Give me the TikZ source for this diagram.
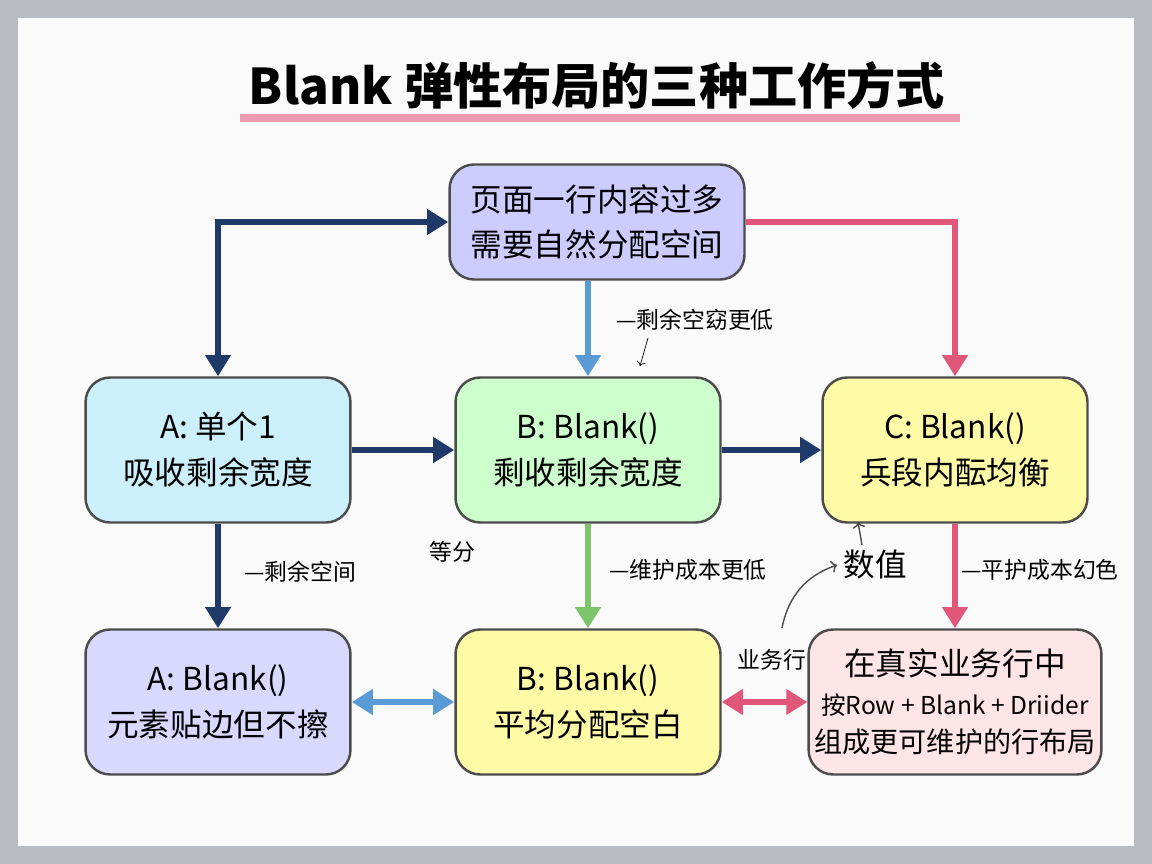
\documentclass[tikz,border=0pt]{standalone}
\usepackage{fontspec}
\setmainfont{Noto Sans CJK SC}
\usetikzlibrary{arrows.meta,positioning}
\definecolor{boardgray}{HTML}{B8BCC0}
\definecolor{inkblue}{HTML}{1F3A68}
\definecolor{arrblue}{HTML}{5B9BD5}
\definecolor{arrgreen}{HTML}{7CC46A}
\definecolor{arrpink}{HTML}{E0577A}
\tikzset{
  box/.style={draw=black!70,line width=1.4pt,rounded corners=14pt,minimum width=5.3cm,minimum height=2.9cm,align=center,font=\fontsize{18}{26}\selectfont},
  flow/.style={line width=3pt,-{Triangle[length=12pt,width=14pt]}},
  both/.style={line width=3pt,{Triangle[length=12pt,width=14pt]}-{Triangle[length=12pt,width=14pt]}},
  lbl/.style={font=\fontsize{13}{15}\selectfont}
}
\begin{document}
\begin{tikzpicture}[x=0.02cm,y=-0.02cm]
\useasboundingbox (0,0) rectangle (1152,864);
\fill[boardgray] (0,0) rectangle (1152,864);
\fill[white!96!gray] (18,18) rectangle (1134,846);
\node[font=\fontsize{28}{32}\selectfont\bfseries] (title) at (597,86) {Blank 弹性布局的三种工作方式};
\draw[arrpink!60,line width=4pt] (240,118) -- (960,118);
% boxes
\node[box,fill=blue!20!white,minimum width=5.9cm,minimum height=2.3cm] (top) at (597,222) {页面一行内容过多\\需要自然分配空间};
\node[box,fill=cyan!20!white] (a1) at (218,450) {A:\ 单个1\\吸收剩余宽度};
\node[box,fill=green!20!white] (b1) at (588,450) {B: Blank()\\剩收剩余宽度};
\node[box,fill=yellow!35!white] (c1) at (955,450) {C: Blank()\\兵段内酝均衡};
\node[box,fill=blue!15!white] (a2) at (218,702) {A: Blank()\\元素贴边但不擦};
\node[box,fill=yellow!35!white] (b2) at (588,702) {B: Blank()\\平均分配空白};
\node[box,fill=pink!40!white,font=\fontsize{14}{22}\selectfont] (c2) at (955,702) {{\fontsize{18}{26}\selectfont 在真实业务行中}\\按Row + Blank + Driider\\{\fontsize{16}{22}\selectfont 组成更可维护的行布局}};
% connectors
\draw[both,inkblue] (top.west) -| (a1.north);
\draw[flow,arrblue] (top.south -| b1) -- (b1);
\draw[flow,arrpink] (top.east) -| (c1.north);
\draw[flow,inkblue] (a1) -- (b1);
\draw[flow,inkblue] (b1) -- (c1);
\draw[flow,inkblue] (a1) -- (a2);
\draw[flow,arrgreen] (b1) -- (b2);
\draw[flow,arrpink] (c1) -- (c2);
\draw[both,arrblue] (a2) -- (b2);
\draw[both,arrpink] (b2) -- (c2);
% labels
\node[lbl] (l1) at (695,320) {—剩余空窈更低};
\draw[->] (648,338) -- (640,366);
\node[lbl] (l2) at (300,572) {—剩余空间};
\node[lbl] (l3) at (688,570) {—维护成本更低};
\node[lbl] (l4) at (1040,570) {—平护成本幻色};
\node[lbl] (l5) at (452,552) {等分};
\node[font=\fontsize{18}{20}\selectfont] (num) at (875,565) {数值};
\coordinate (numtail) at (782,628);
\draw[->,black!70,line width=0.8pt] (numtail) to[bend left=30] (num.west);
\draw[->,black!70,line width=0.8pt] (862,545) -- (858,522);
\node[lbl] (l6) at (772,660) {业务行};
\end{tikzpicture}
\end{document}
